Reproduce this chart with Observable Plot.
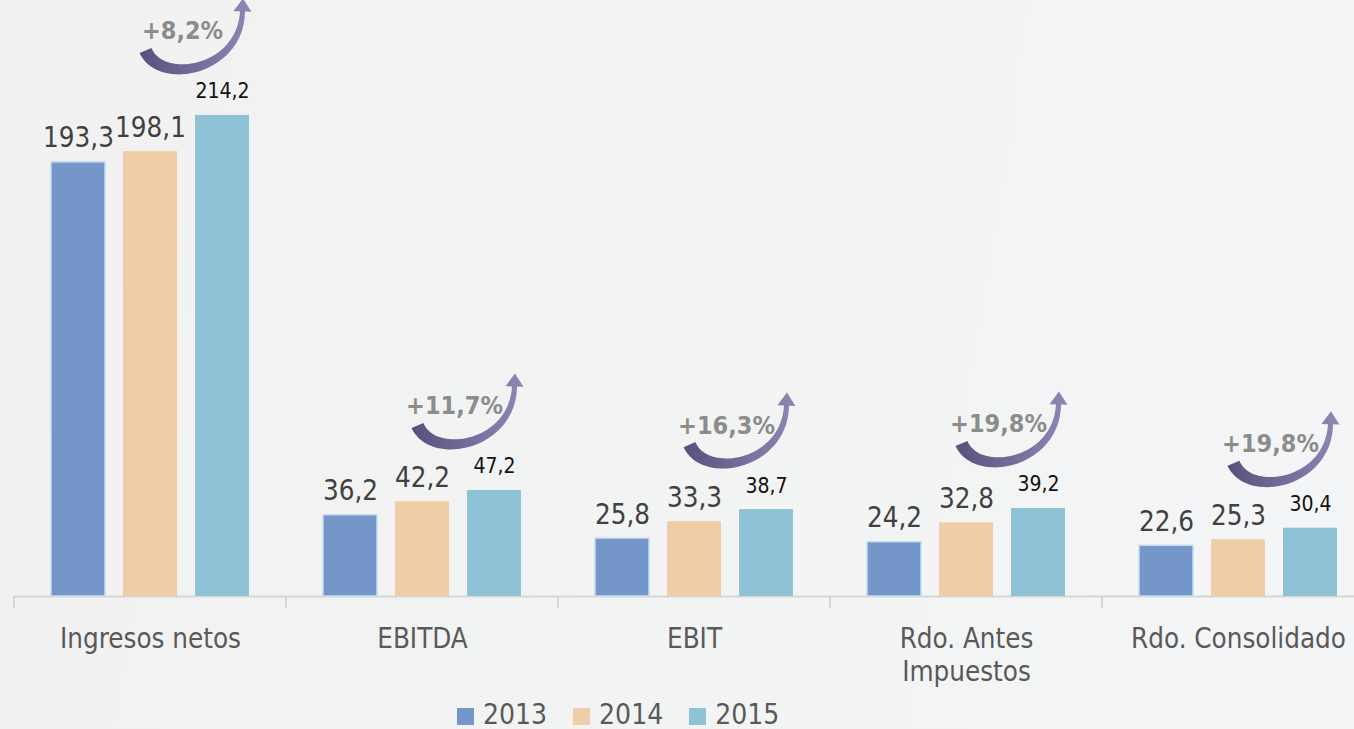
<!DOCTYPE html>
<html><head><meta charset="utf-8">
<script src="https://cdn.jsdelivr.net/npm/d3@7"></script>
<script src="https://cdn.jsdelivr.net/npm/@observablehq/plot@0.6"></script>
<style>
html,body{margin:0;padding:0;width:1354px;height:729px;overflow:hidden;}
body{background:linear-gradient(100deg,#f1f1f1 0%,#f2f3f3 50%,#f4f5f6 100%);font-family:"DejaVu Sans Condensed","DejaVu Sans",sans-serif;font-stretch:condensed;position:relative;}
#chart svg{overflow:visible;display:block;max-width:none !important;}
#legend{position:absolute;left:457px;top:701px;display:flex;gap:26px;font-size:28px;line-height:28px;color:#595959;}
#legend .item{display:flex;align-items:flex-start;}
#legend .sw{width:17px;height:17px;margin-top:7px;margin-right:9px;}
</style></head><body>
<div id="chart"></div>
<div id="legend"></div>
<script>
const categories = ["Ingresos netos", "EBITDA", "EBIT", "Rdo. Antes Impuestos", "Rdo. Consolidado"];
const categoryLabels = ["Ingresos netos", "EBITDA", "EBIT", "Rdo. Antes\nImpuestos", "Rdo. Consolidado"];
const years = ["2013", "2014", "2015"];
const values2013 = [193.3, 36.2, 25.8, 24.2, 22.6];
const values2014 = [198.1, 42.2, 33.3, 32.8, 25.3];
const values2015 = [214.2, 47.2, 38.7, 39.2, 30.4];
const growthLabels = ["+8,2%", "+11,7%", "+16,3%", "+19,8%", "+19,8%"];
const yearColors = ["#7496c9", "#efcea7", "#90c2d5"];

const seriesByYear = [values2013, values2014, values2015];
const rows = [];
categories.forEach((c, i) => years.forEach((y, j) => rows.push({category: c, year: y, value: seriesByYear[j][i]})));
const growthRows = categories.map((c, i) => ({category: c, year: "2015", value: values2015[i], label: growthLabels[i]}));

const fmt = d3.formatLocale({decimal: ",", thousands: "."}).format(".1f");
const FONT = '"DejaVu Sans Condensed","DejaVu Sans",sans-serif';

function tickRender(index, scales, values, dimensions, context, next) {
  const g = next(index, scales, values, dimensions, context);
  const y0 = scales.y(0);
  d3.select(g).append("line")
    .attr("x1", dimensions.marginLeft).attr("x2", dimensions.marginLeft)
    .attr("y1", y0).attr("y2", y0 + 11)
    .attr("stroke", "#d6d6d6").attr("stroke-width", 2);
  return g;
}

function bez(p0, p1, p2, p3, t) {
  const u = 1 - t;
  return [
    u*u*u*p0[0] + 3*u*u*t*p1[0] + 3*u*t*t*p2[0] + t*t*t*p3[0],
    u*u*u*p0[1] + 3*u*u*t*p1[1] + 3*u*t*t*p2[1] + t*t*t*p3[1]
  ];
}
function bezD(p0, p1, p2, p3, t) {
  const u = 1 - t;
  return [
    3*u*u*(p1[0]-p0[0]) + 6*u*t*(p2[0]-p1[0]) + 3*t*t*(p3[0]-p2[0]),
    3*u*u*(p1[1]-p0[1]) + 6*u*t*(p2[1]-p1[1]) + 3*t*t*(p3[1]-p2[1])
  ];
}
function arrowShape() {
  const T = [-37, 11], C1 = [-22, 46], C2 = [58, 32], E = [60, -28];
  const N = 40, outer = [], inner = [];
  let nEnd, dEnd;
  for (let k = 0; k <= N; k++) {
    const t = k / N;
    const p = bez(T, C1, C2, E, t);
    const d = bezD(T, C1, C2, E, t);
    const len = Math.hypot(d[0], d[1]);
    const dn = [d[0]/len, d[1]/len];
    const n = [-dn[1], dn[0]];
    const w = 13 - 8 * t;
    outer.push([p[0] + n[0]*w/2, p[1] + n[1]*w/2]);
    inner.push([p[0] - n[0]*w/2, p[1] - n[1]*w/2]);
    if (k === N) { nEnd = n; dEnd = dn; }
  }
  const hb1 = [E[0] + nEnd[0]*9, E[1] + nEnd[1]*9];
  const hb2 = [E[0] - nEnd[0]*9, E[1] - nEnd[1]*9];
  const tip = [E[0] + dEnd[0]*13, E[1] + dEnd[1]*13];
  const pts = [...outer, hb1, tip, hb2, ...inner.reverse()];
  return "M" + pts.map(p => p[0].toFixed(2) + "," + p[1].toFixed(2)).join("L") + "Z";
}
const ARROW_D = arrowShape();
let gradCount = 0;
function arrowRender(index, scales, values, dimensions, context, next) {
  const g = next(index, scales, values, dimensions, context);
  const sel = d3.select(g);
  const id = "arrowGrad" + (gradCount++);
  const grad = sel.append("defs").append("linearGradient").attr("id", id)
    .attr("x1", "0").attr("x2", "1").attr("y1", "0").attr("y2", "0");
  grad.append("stop").attr("offset", "0%").attr("stop-color", "#57517d");
  grad.append("stop").attr("offset", "100%").attr("stop-color", "#8f87b6");
  for (const i of index) {
    sel.append("path")
      .attr("d", ARROW_D)
      .attr("transform", `translate(${values.x[i]},${values.y[i]})`)
      .attr("fill", `url(#${id})`);
  }
  return g;
}

const chart = Plot.plot({
  width: 1380,
  height: 690,
  marginLeft: 13,
  marginRight: 6,
  marginTop: 57,
  marginBottom: 94,
  style: {fontFamily: FONT, background: "transparent", overflow: "visible", maxWidth: "none"},
  fx: {domain: categories, padding: 0, axis: null},
  x: {domain: years, paddingInner: 0.255, paddingOuter: 0.5, axis: null},
  y: {domain: [0, 240], axis: null},
  color: {domain: years, range: yearColors},
  marks: [
    Plot.ruleY([0], {stroke: "#d6d6d6", strokeWidth: 2, render: tickRender}),
    Plot.barY(rows, {fx: "category", x: "year", y: "value", fill: "year"}),
    Plot.barY(rows.filter(d => d.year === "2013"), {fx: "category", x: "year", y: "value", fill: "none", stroke: "#c8dbf1", strokeWidth: 1.5}),
    Plot.text(rows.filter(d => d.year !== "2015"), {fx: "category", x: "year", y: "value", text: d => fmt(d.value), dy: -15, lineAnchor: "bottom", fontSize: 27.5, fill: "#404040"}),
    Plot.text(rows.filter(d => d.year === "2015"), {fx: "category", x: "year", y: "value", text: d => fmt(d.value), dy: -17, lineAnchor: "bottom", fontSize: 21, fill: "#111111"}),
    Plot.text(growthRows, {fx: "category", x: "year", y: "value", text: "label", dx: -40, dy: -76, lineAnchor: "bottom", fontSize: 25, fontWeight: "bold", fill: "#8c8c8c", render: arrowRender}),
    Plot.text(categories, {fx: d => d, text: (d, i) => categoryLabels[i], frameAnchor: "bottom", lineAnchor: "top", dy: 28, fontSize: 27.5, lineHeight: 1.2, fill: "#595959"})
  ]
});
chart.style.maxWidth = "none";
document.getElementById("chart").appendChild(chart);

const legend = document.getElementById("legend");
years.forEach((y, i) => {
  const item = document.createElement("div");
  item.className = "item";
  const sw = document.createElement("div");
  sw.className = "sw";
  sw.style.background = yearColors[i];
  const lab = document.createElement("span");
  lab.textContent = y;
  item.appendChild(sw);
  item.appendChild(lab);
  legend.appendChild(item);
});
</script>
</body></html>
